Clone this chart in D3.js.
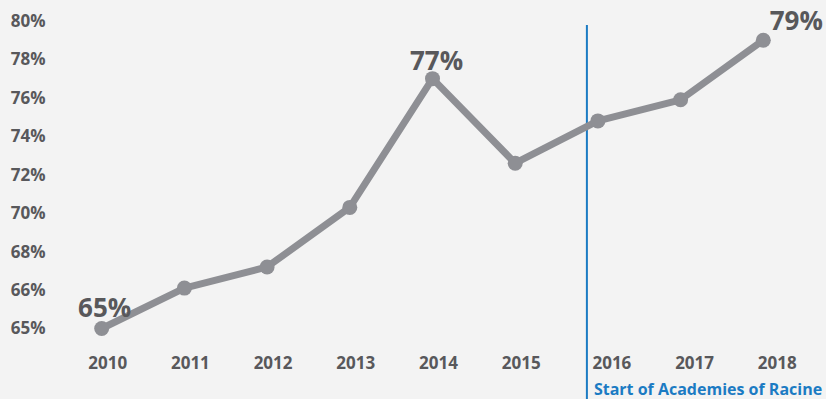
<!DOCTYPE html>
<html>
<head>
<meta charset="utf-8">
<script src="https://cdn.jsdelivr.net/npm/d3@7"></script>
<style>
  html, body { margin: 0; padding: 0; background: #f3f3f3; }
  svg { display: block; font-family: "Open Sans", "DejaVu Sans", sans-serif; }
</style>
</head>
<body>
<svg id="chart" width="826" height="399"></svg>
<script>
// Graduation rate by year
const years = [2010, 2011, 2012, 2013, 2014, 2015, 2016, 2017, 2018];
const rates = [65, 66.1, 67.2, 70.3, 77, 72.6, 74.8, 75.9, 79];

// Axis tick values (bottom tick sits directly below 66%)
const yTicks = [65, 66, 68, 70, 72, 74, 76, 78, 80];

// Values called out with a label
const calloutYears = [2010, 2014, 2018];

// Marker for the program start
const markerLabel = "Start of Academies of Racine";
const markerYear = 2016;

const W = 826, H = 399;
const svg = d3.select("#chart");

const x = d3.scalePoint().domain(years).range([101.7, 763.3]);
// piecewise scale: 65 occupies one 2-point step below 66
const y = d3.scaleLinear().domain([65, 66, 80]).range([328.5, 290, 21]);

const textColor = "#58585b";
const lineColor = "#8e8f94";
const blue = "#1b7bc3";

// y axis labels
svg.append("g")
  .selectAll("text")
  .data(yTicks)
  .join("text")
  .attr("x", 45.5)
  .attr("y", d => y(d))
  .attr("dy", "0.35em")
  .attr("text-anchor", "end")
  .attr("font-size", 17)
  .attr("font-weight", 700)
  .attr("fill", textColor)
  .text(d => d + "%");

// year labels; those past the marker are nudged right to clear the line
svg.append("g")
  .selectAll("text")
  .data(years)
  .join("text")
  .attr("x", d => x(d) + (d >= markerYear ? 14 : 6))
  .attr("y", 369)
  .attr("text-anchor", "middle")
  .attr("font-size", 17)
  .attr("font-weight", 700)
  .attr("fill", textColor)
  .text(d => d);

// marker line and caption
const mx = x(markerYear) - 11;
svg.append("line")
  .attr("x1", mx).attr("x2", mx)
  .attr("y1", 25).attr("y2", H)
  .attr("stroke", blue)
  .attr("stroke-width", 2);

svg.append("text")
  .attr("x", mx + 7)
  .attr("y", 394.5)
  .attr("font-size", 16)
  .attr("font-weight", 700)
  .attr("fill", blue)
  .text(markerLabel);

// data line
const pts = years.map((yr, i) => ({ yr, v: rates[i] }));
svg.append("path")
  .datum(pts)
  .attr("fill", "none")
  .attr("stroke", lineColor)
  .attr("stroke-width", 7)
  .attr("stroke-linejoin", "round")
  .attr("d", d3.line().x(d => x(d.yr)).y(d => y(d.v)));

svg.append("g")
  .selectAll("circle")
  .data(pts)
  .join("circle")
  .attr("cx", d => x(d.yr))
  .attr("cy", d => y(d.v))
  .attr("r", 7.5)
  .attr("fill", lineColor);

// value callouts
const calloutOffset = { 2010: [3, -12], 2014: [4, -9], 2018: [33, -10] };
svg.append("g")
  .selectAll("text")
  .data(pts.filter(d => calloutYears.includes(d.yr)))
  .join("text")
  .attr("x", d => x(d.yr) + calloutOffset[d.yr][0])
  .attr("y", d => y(d.v) + calloutOffset[d.yr][1])
  .attr("text-anchor", "middle")
  .attr("font-size", 26)
  .attr("font-weight", 700)
  .attr("fill", textColor)
  .text(d => Math.round(d.v) + "%");
</script>
</body>
</html>
